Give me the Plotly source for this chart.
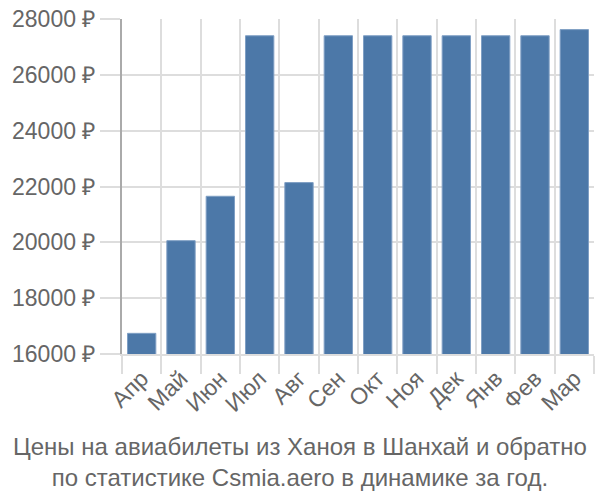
import plotly.graph_objects as go

months = ["Апр", "Май", "Июн", "Июл", "Авг", "Сен", "Окт", "Ноя", "Дек", "Янв", "Фев", "Мар"]
prices = [16740, 20060, 21650, 27400, 22140, 27400, 27400, 27400, 27400, 27400, 27400, 27620]
y_ticks = [16000, 18000, 20000, 22000, 24000, 26000, 28000]
y_labels = [f"{v} ₽" for v in y_ticks]
title_text = "Цены на авиабилеты из Ханоя в Шанхай и обратно<br>по статистике Csmia.aero в динамике за год."

FONT = "Liberation Sans, Arial, sans-serif"
GRAY = "#666666"
GRID = "#dddddd"

L, R, T, B = 122, 6, 14, 146
W, H = 600, 500
plot_w = W - L - R
plot_h = H - T - B

fig = go.Figure(go.Bar(
    x=months, y=prices,
    marker=dict(color="#4c78a8", line=dict(color="#7f9fc4", width=1)),
))

fig.update_layout(
    width=W, height=H,
    margin=dict(l=L, r=R, t=T, b=B),
    paper_bgcolor="white", plot_bgcolor="white",
    bargap=0.28,
    showlegend=False,
    font=dict(family=FONT, color=GRAY),
    annotations=[dict(
        text=title_text, showarrow=False,
        xref="paper", yref="paper",
        x=(W / 2 - L) / plot_w, xanchor="center",
        y=-(432 - (H - B)) / plot_h, yanchor="top",
        align="center",
        font=dict(size=24, color=GRAY, family=FONT),
    )],
)
fig.update_xaxes(
    type="category", tickson="boundaries",
    showgrid=True, gridcolor=GRID, gridwidth=2,
    ticks="outside", ticklen=18, tickcolor=GRID, tickwidth=2,
    tickangle=-45, tickfont=dict(size=23, color=GRAY, family=FONT),
    showline=True, linecolor=GRID, linewidth=2,
)
fig.update_yaxes(
    range=[16000, 28000], tickvals=y_ticks, ticktext=y_labels,
    showgrid=True, gridcolor=GRID, gridwidth=2,
    ticks="outside", ticklen=20, tickcolor=GRID, tickwidth=2,
    tickfont=dict(size=23, color=GRAY, family=FONT),
    showline=True, linecolor="#aaaaaa", linewidth=2,
    zeroline=False,
)

fig.write_html("out.html")
